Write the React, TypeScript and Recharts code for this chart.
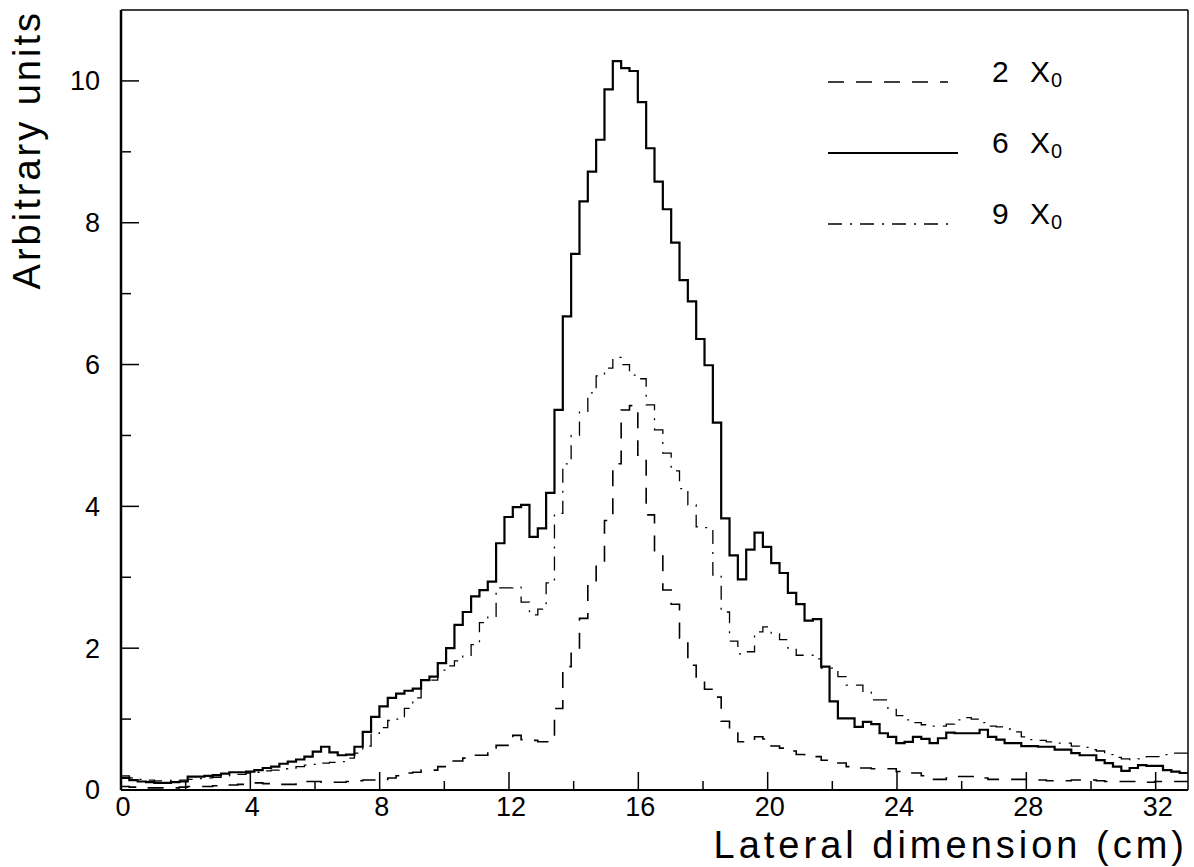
import React from 'react';
import { LineChart, Line, XAxis, YAxis, ReferenceLine, Legend } from 'recharts';

// Lateral shower profiles, 128 bins over 0-33 cm
const X_MAX = 33;
const Y_MAX = 11;
const N_BINS = 128;
const X_TICKS = [0, 2, 4, 6, 8, 10, 12, 14, 16, 18, 20, 22, 24, 26, 28, 30, 32];
const Y_TICKS = [0, 1, 2, 3, 4, 5, 6, 7, 8, 9, 10];
const X_TITLE = 'Lateral dimension (cm)';
const Y_TITLE = 'Arbitrary units';

// 2 X0 (dashed)
const TWO = [
  0.05, 0.04, 0.03, 0.03, 0.03, 0.03, 0.03, 0.04, 0.05, 0.05,
  0.05, 0.06, 0.06, 0.07, 0.08, 0.10, 0.10, 0.09, 0.08, 0.08,
  0.08, 0.10, 0.12, 0.12, 0.11, 0.11, 0.11, 0.12, 0.13, 0.14,
  0.14, 0.15, 0.17, 0.20, 0.24, 0.25, 0.28, 0.28, 0.33, 0.41,
  0.41, 0.45, 0.49, 0.49, 0.55, 0.63, 0.63, 0.77, 0.71, 0.70,
  0.68, 0.68, 1.15, 1.74, 1.97, 2.42, 2.90, 3.21, 3.80, 4.60,
  5.36, 5.42, 4.72, 3.88, 3.33, 2.82, 2.62, 2.14, 1.76, 1.56,
  1.42, 1.31, 0.97, 0.85, 0.68, 0.68, 0.75, 0.72, 0.62, 0.59,
  0.55, 0.50, 0.48, 0.47, 0.42, 0.40, 0.38, 0.33, 0.31, 0.31,
  0.30, 0.30, 0.30, 0.26, 0.24, 0.24, 0.20, 0.15, 0.15, 0.17,
  0.19, 0.19, 0.19, 0.17, 0.15, 0.15, 0.15, 0.15, 0.15, 0.15,
  0.14, 0.13, 0.13, 0.13, 0.14, 0.14, 0.14, 0.13, 0.12, 0.12,
  0.12, 0.12, 0.11, 0.11, 0.12, 0.12, 0.12, 0.12,
];

// 6 X0 (solid)
const SIX = [
  0.17, 0.14, 0.12, 0.11, 0.10, 0.10, 0.11, 0.12, 0.19, 0.19,
  0.20, 0.21, 0.23, 0.25, 0.25, 0.26, 0.28, 0.31, 0.33, 0.37,
  0.40, 0.43, 0.47, 0.54, 0.61, 0.53, 0.49, 0.50, 0.61, 0.82,
  1.03, 1.18, 1.30, 1.36, 1.40, 1.43, 1.55, 1.60, 1.79, 2.00,
  2.33, 2.51, 2.73, 2.82, 2.94, 3.48, 3.85, 3.99, 4.02, 3.57,
  3.69, 4.19, 5.36, 6.68, 7.56, 8.30, 8.72, 9.17, 9.88, 10.28,
  10.18, 10.14, 9.70, 9.05, 8.58, 8.19, 7.72, 7.19, 6.89, 6.36,
  5.99, 5.18, 3.83, 3.31, 2.97, 3.39, 3.63, 3.43, 3.20, 3.06,
  2.78, 2.62, 2.39, 2.41, 1.74, 1.25, 1.01, 1.01, 0.89, 0.96,
  0.93, 0.80, 0.75, 0.66, 0.68, 0.75, 0.72, 0.66, 0.73, 0.81,
  0.80, 0.80, 0.80, 0.85, 0.75, 0.71, 0.66, 0.66, 0.62, 0.62,
  0.61, 0.61, 0.57, 0.57, 0.52, 0.49, 0.49, 0.42, 0.38, 0.33,
  0.27, 0.31, 0.35, 0.34, 0.34, 0.28, 0.26, 0.24,
];

// 9 X0 (dash-dot)
const NINE = [
  0.20, 0.17, 0.15, 0.14, 0.13, 0.13, 0.14, 0.14, 0.15, 0.16,
  0.17, 0.18, 0.20, 0.21, 0.22, 0.24, 0.25, 0.27, 0.28, 0.30,
  0.31, 0.33, 0.35, 0.36, 0.38, 0.39, 0.40, 0.45, 0.52, 0.62,
  0.80, 0.88, 0.98, 1.00, 1.15, 1.30, 1.55, 1.55, 1.69, 1.75,
  1.82, 1.90, 2.05, 2.36, 2.45, 2.85, 2.85, 2.86, 2.65, 2.47,
  2.55, 2.92, 3.90, 4.60, 5.00, 5.34, 5.60, 5.84, 5.95, 6.10,
  6.00, 5.85, 5.80, 5.43, 5.08, 4.75, 4.50, 4.25, 4.02, 3.71,
  3.70, 3.03, 2.51, 2.10, 1.92, 1.95, 2.23, 2.30, 2.20, 2.12,
  2.00, 1.90, 1.90, 1.85, 1.72, 1.72, 1.60, 1.48, 1.48, 1.38,
  1.27, 1.27, 1.15, 1.05, 0.99, 0.95, 0.92, 0.90, 0.90, 0.93,
  0.99, 1.02, 1.00, 0.95, 0.90, 0.89, 0.86, 0.82, 0.75, 0.71,
  0.70, 0.68, 0.66, 0.66, 0.62, 0.60, 0.57, 0.55, 0.50, 0.46,
  0.44, 0.43, 0.44, 0.47, 0.47, 0.50, 0.52, 0.52,
];

const SERIES = [
  { key: 'two', depth: '2', dash: '16 12', width: 1.6, legendLen: 120 },
  { key: 'six', depth: '6', dash: undefined, width: 2.2, legendLen: 130 },
  { key: 'nine', depth: '9', dash: '14 8 2 8', width: 1.3, legendLen: 120 },
];

const FONT = '"Liberation Sans", Arial, sans-serif';
const BIN_W = X_MAX / N_BINS;

// stepAfter needs a closing point at the right edge
const rows = Array.from({ length: N_BINS + 1 }, (_, i) => {
  const j = Math.min(i, N_BINS - 1);
  return { x: i * BIN_W, two: TWO[j], six: SIX[j], nine: NINE[j] };
});

const XTick = ({ x, y, payload }: any) => {
  const major = payload.value % 4 === 0;
  return (
    <g>
      <line x1={x} x2={x} y1={y} y2={y - (major ? 18 : 9)} stroke="#000" strokeWidth={1.5} />
      {major && (
        <text x={x + 2} y={y + 26} textAnchor="middle" fontFamily={FONT} fontSize={27} fill="#000">
          {payload.value}
        </text>
      )}
    </g>
  );
};

const YTick = ({ x, y, payload }: any) => {
  const major = payload.value % 2 === 0;
  return (
    <g>
      <line x1={x} x2={x + (major ? 18 : 10)} y1={y} y2={y} stroke="#000" strokeWidth={1.5} />
      {major && (
        <text x={x - 21} y={y} dy="0.35em" textAnchor="end" fontFamily={FONT} fontSize={27} fill="#000">
          {payload.value}
        </text>
      )}
    </g>
  );
};

const XTitle = ({ viewBox }: any) => (
  <text
    x={viewBox.x + viewBox.width}
    y={viewBox.y + 68}
    textAnchor="end"
    fontFamily={FONT}
    fontSize={38}
    letterSpacing={4}
    fill="#000"
  >
    {X_TITLE}
  </text>
);

const YTitle = ({ viewBox }: any) => {
  const cx = viewBox.x + 40;
  const cy = viewBox.y;
  return (
    <text
      x={cx}
      y={cy}
      transform={`rotate(-90 ${cx} ${cy})`}
      textAnchor="end"
      fontFamily={FONT}
      fontSize={38}
      letterSpacing={3}
      fill="#000"
    >
      {Y_TITLE}
    </text>
  );
};

const renderLegend = () => (
  <svg width={380} height={220} style={{ display: 'block' }}>
    {SERIES.map((s, i) => {
      const y = 42 + i * 71;
      return (
        <g key={s.key}>
          <line x1={8} x2={8 + s.legendLen} y1={y} y2={y} stroke="#000" strokeWidth={s.width} strokeDasharray={s.dash} />
          <text x={172} y={y} fontFamily={FONT} fontSize={30} fill="#000">{s.depth}</text>
          <text x={210} y={y} fontFamily={FONT} fontSize={30} fill="#000">X</text>
          <text x={231} y={y + 5} fontFamily={FONT} fontSize={20} fill="#000">0</text>
        </g>
      );
    })}
  </svg>
);

export default function App() {
  return (
    <div style={{ position: 'absolute', left: 0, top: 0, width: 1194, height: 867, background: '#fff' }}>
      <LineChart width={1194} height={867} data={rows} margin={{ top: 10, right: 6, bottom: 0, left: 0 }}>
        <XAxis
          type="number"
          dataKey="x"
          domain={[0, X_MAX]}
          ticks={X_TICKS}
          interval={0}
          height={77}
          tickSize={0}
          tickMargin={0}
          tickLine={false}
          tick={(p: any) => <XTick {...p} />}
          axisLine={{ stroke: '#000', strokeWidth: 2 }}
          allowDataOverflow
          label={{ value: X_TITLE, content: (p: any) => <XTitle {...p} /> }}
        />
        <YAxis
          type="number"
          domain={[0, Y_MAX]}
          ticks={Y_TICKS}
          interval={0}
          width={121}
          tickSize={0}
          tickMargin={0}
          tickLine={false}
          tick={(p: any) => <YTick {...p} />}
          axisLine={{ stroke: '#000', strokeWidth: 2.5 }}
          allowDataOverflow
          label={{ value: Y_TITLE, content: (p: any) => <YTitle {...p} /> }}
        />
        <ReferenceLine y={Y_MAX} stroke="#000" strokeWidth={1.5} />
        <ReferenceLine x={X_MAX} stroke="#000" strokeWidth={1.5} />
        {SERIES.map((s) => (
          <Line
            key={s.key}
            type="stepAfter"
            dataKey={s.key}
            stroke="#000"
            strokeWidth={s.width}
            strokeDasharray={s.dash}
            dot={false}
            activeDot={false}
            isAnimationActive={false}
          />
        ))}
        <Legend
          layout="vertical"
          align="center"
          verticalAlign="middle"
          content={renderLegend}
          wrapperStyle={{ left: 820, top: 40, width: 380, height: 220 }}
        />
      </LineChart>
    </div>
  );
}
